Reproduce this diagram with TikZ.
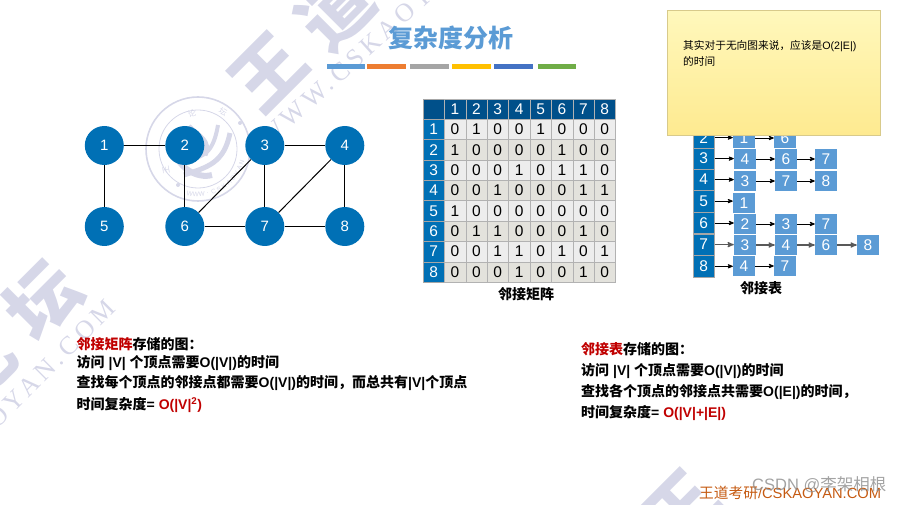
\documentclass[tikz,border=0pt]{standalone}
\usepackage{fontspec}
\setmainfont{Liberation Sans}
\newfontfamily\cjk{Noto Sans CJK SC}
\newfontfamily\wmserif[LetterSpace=17]{Liberation Serif}
\usetikzlibrary{arrows, shadows}
\newcommand{\zh}[1]{{\cjk #1}}
\newcommand{\fs}[1]{\fontsize{#1}{#1}\selectfont}
\definecolor{wmark}{HTML}{D6D7E8}
\definecolor{sblue}{HTML}{0070B5}
\definecolor{hblue}{HTML}{00508A}
\definecolor{lblue}{HTML}{5B9BD5}
\definecolor{fred}{HTML}{C00000}
\definecolor{rowa}{HTML}{EDEDED}
\definecolor{rowb}{HTML}{E3E2DC}
\definecolor{baro}{HTML}{ED7D31}
\definecolor{barg}{HTML}{A5A5A5}
\definecolor{bary}{HTML}{FFC000}
\definecolor{barb}{HTML}{4472C4}
\definecolor{barv}{HTML}{70AD47}
\definecolor{notetop}{HTML}{FFF8BC}
\definecolor{notebot}{HTML}{FEEA90}
\definecolor{footc}{HTML}{C55A11}
\tikzset{
        x=1pt, y=-1pt, % one unit is one pixel of the slide
        wmchar/.style={text=wmark, font=\cjk\bfseries\fs{72}, rotate=45, inner sep=0pt},
        wmtext/.style={text=wmark, font=\wmserif\fs{26}, inner sep=0pt},
        sealchar/.style={text=wmark, font=\cjk\fs{8}, inner sep=0pt},
        bodytext/.style={anchor=west, font=\bfseries\fs{14}, inner sep=0pt},
        gridcell/.style={draw=gray!60, minimum width=21.4pt, minimum height=20.35pt, inner sep=0pt, font=\fs{15.5}},
        listarrow/.style={->, >=stealth', line width=0.8pt},
    }
\tikzstyle{vertex}=[fill=sblue,circle,minimum size=39pt,inner sep=0pt,text=white,font=\fs{15}]
\tikzstyle{listhead}=[draw=gray!70,fill=sblue,minimum width=21pt,minimum height=21.3pt,inner sep=0pt,text=white,font=\fs{15.5}]
\tikzstyle{listcell}=[fill=lblue,minimum width=22pt,minimum height=20pt,inner sep=0pt,text=white,font=\fs{15.5}]
\begin{document}
\begin{tikzpicture}
    \useasboundingbox (0,0) rectangle (903,505);
    % watermark
    \node[wmchar] (wm1) at (268,72) {王};
    \node[wmchar] (wm2) at (335,10) {道};
    \node[wmchar] (wm3) at (43,300) {坛};
    \node[wmchar] (wm4) at (-22,365) {论};
    \node[wmchar] (wm5) at (681,509) {王};
    \node[wmtext, anchor=base west, rotate=42] (wm6) at (268,148) {WWW.CSKAOYAN.COM};
    \node[wmtext, anchor=base east, rotate=45] (wm7) at (117,310) {WWW.CSKAOYAN.COM};
    \begin{scope}[shift={(198,149)}]
        \draw[wmark, line width=1.6pt] (0,0) circle (52);
        \draw[wmark, line width=0.8pt] (0,0) circle (39);
        \foreach \l [count=\i] in {W,W,W,.,C,S,K,A,O,Y,A,N} {
            \pgfmathsetmacro{\a}{252+\i*7.6}
            \node[text=wmark, font=\fs{6.5}, inner sep=0pt, rotate=\a+90]
                (seal\i) at ({45.5*cos(\a)},{-45.5*sin(\a)}) {\l};
        }
        \draw[wmark, line width=6pt] (-26,-6) .. controls (-22,20) and (0,30) .. (14,26);
        \draw[wmark, line width=7pt] (-10,-22) .. controls (0,-12) and (12,-8) .. (6,6);
        \draw[wmark, line width=5pt] (-14,26) .. controls (10,18) and (26,14) .. (32,-16);
        \draw[wmark, line width=4pt] (-8,10) .. controls (8,8) and (16,0) .. (20,-24);
        \fill[wmark] (42,-26) circle (2);
        \fill[wmark] (-20,36) circle (2);
    \end{scope}
    \node[sealchar, rotate=15] (seal13) at (192,113) {论};
    \node[sealchar, rotate=-30] (seal14) at (223,112) {坛};
    \node[sealchar, rotate=100] (seal15) at (166,170) {王};
    % title
    \node[text=lblue, font=\cjk\bfseries\fs{25}] (title) at (451,38) {复杂度分析};
    \foreach \a/\b/\c in {327/365/lblue, 367/406/baro, 410/449/barg, 452/491/bary, 494/533/barb, 538/576/barv}
        \fill[\c] (\a,64) rectangle (\b,69);
    % the graph
    \foreach \n/\x/\y in {1/104.3/145.5, 2/184.8/145.5, 3/264.8/145.5, 4/344.8/145.5, 5/104.3/226.5, 6/184.8/226.5, 7/264.8/226.5, 8/344.8/226.5}
        \node[vertex] (v\n) at (\x,\y) {\n};
    \foreach \a/\b in {1/2, 1/5, 2/6, 3/4, 3/7, 4/8, 6/7, 7/8, 3/6, 4/7}
        \draw[line width=1pt] (v\a) -- (v\b);
    % adjacency matrix
    \node[fill=hblue, draw=gray!70, minimum width=21.3pt, minimum height=20.3pt] (corner) at (433.6,109.2) {};
    \foreach \c in {1,...,8}
        \node[gridcell, fill=hblue, text=white] (top\c) at ({444.3+(\c-.5)*21.4},109.2) {\c};
    \foreach \r/\row in {1/{0,1,0,0,1,0,0,0}, 2/{1,0,0,0,0,1,0,0}, 3/{0,0,0,1,0,1,1,0}, 4/{0,0,1,0,0,0,1,1},
                         5/{1,0,0,0,0,0,0,0}, 6/{0,1,1,0,0,0,1,0}, 7/{0,0,1,1,0,1,0,1}, 8/{0,0,0,1,0,0,1,0}} {
        \ifodd\r \colorlet{rowfill}{rowa}\else\colorlet{rowfill}{rowb}\fi
        \node[gridcell, fill=sblue, text=white, draw=gray!70, minimum width=21.3pt] (side\r) at (433.6,{119.3+(\r-.5)*20.35}) {\r};
        \foreach \v [count=\c] in \row
            \node[gridcell, fill=rowfill] (m\r\c) at ({444.3+(\c-.5)*21.4},{119.3+(\r-.5)*20.35}) {\v};
    }
    \node[font=\cjk\bfseries\fs{14}] (mlabel) at (526,294) {邻接矩阵};
    % adjacency list
    \foreach \n/\y in {2/137.6, 3/158.6, 4/179.6, 5/201.1, 6/223, 7/244.6, 8/266.3}
        \node[listhead] (h\n) at (703.8,\y) {\n};
    \foreach \n/\x/\y/\t in {c21/744/138/1, c22/785/138/6, c31/745/159/4, c32/786/159/6, c33/826/159/7,
                             c41/745/181/3, c42/786/181/7, c43/826/181/8, c51/744/203/1,
                             c61/745/224/2, c62/786/224/3, c63/826/224/7,
                             c71/745/245/3, c72/786/245/4, c73/826/245/6, c74/868/245/8,
                             c81/744/266/4, c82/785/266/7}
        \node[listcell] (\n) at (\x,\y) {\t};
    \foreach \a/\b in {h2/c21, c21/c22, h3/c31, c31/c32, c32/c33, h4/c41, c41/c42, c42/c43, h5/c51,
                       h6/c61, c61/c62, c62/c63, h8/c81, c81/c82}
        \draw[listarrow] (\a.east) -- (\b.west |- \a.east);
    \foreach \a/\b in {h7/c71, c71/c72, c72/c73, c73/c74}
        \draw[listarrow, black!65, line width=1.2pt] (\a.east) -- (\b.west |- \a.east);
    \node[font=\cjk\bfseries\fs{14}] (llabel) at (761,288) {邻接表};
    % sticky note
    \node[draw=notebot!70!gray, top color=notetop, bottom color=notebot, drop shadow={shadow xshift=1pt, shadow yshift=-1pt, opacity=.3},
          minimum width=213pt, minimum height=125pt, inner sep=0pt] (note) at (773.5,72.8) {};
    \node[anchor=west, font=\fs{10.7}, inner sep=0pt] (note1) at (683,46) {\zh{其实对于无向图来说，应该是}O(2|E|)};
    \node[anchor=west, font=\fs{10.7}, inner sep=0pt] (note2) at (683,61) {\zh{的时间}};
    % text on the left
    \node[bodytext] (a1) at (76.5,344) {\textcolor{fred}{\zh{邻接矩阵}}\zh{存储的图：}};
    \node[bodytext] (a2) at (76.5,362.7) {\zh{访问} |V| \zh{个顶点需要}O(|V|)\zh{的时间}};
    \node[bodytext] (a3) at (76.5,383) {\zh{查找每个顶点的邻接点都需要}O(|V|)\zh{的时间，而总共有}|V|\zh{个顶点}};
    \node[bodytext] (a4) at (76.5,405) {\zh{时间复杂度}= \textcolor{fred}{O(|V|\textsuperscript{2})}};
    % text on the right
    \node[bodytext] (b1) at (581,349) {\textcolor{fred}{\zh{邻接表}}\zh{存储的图：}};
    \node[bodytext] (b2) at (581,370.7) {\zh{访问} |V| \zh{个顶点需要}O(|V|)\zh{的时间}};
    \node[bodytext] (b3) at (581,391.7) {\zh{查找各个顶点的邻接点共需要}O(|E|)\zh{的时间，}};
    \node[bodytext] (b4) at (581,412.7) {\zh{时间复杂度}= \textcolor{fred}{O(|V|+|E|)}};
    % footer
    \node[anchor=west, text=footc, font=\fs{14.7}, inner sep=0pt] (foot) at (699,492.7) {\zh{王道考研}/CSKAOYAN.COM};
    \node[anchor=west, text=black!45, opacity=.8, font=\fs{16.5}, inner sep=0pt] (csdn) at (752,485) {CSDN @\zh{李架相根}};
\end{tikzpicture}
\end{document}
